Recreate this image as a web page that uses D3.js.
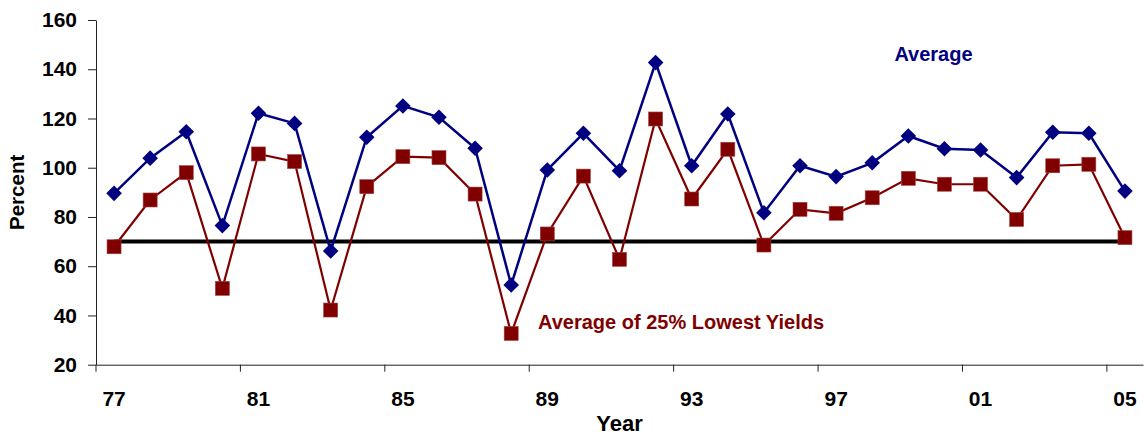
<!DOCTYPE html>
<html>
<head>
<meta charset="utf-8">
<script src="https://cdn.jsdelivr.net/npm/d3@7"></script>
<style>
  html, body { margin: 0; padding: 0; background: #fff; }
  svg { display: block; }
  text { font-family: "Liberation Sans", Arial, sans-serif; font-weight: bold; }
</style>
</head>
<body>
<svg id="chart" width="1144" height="436"></svg>
<script>
// Crop years 1977–2005 (two-digit labels)
const years = ["77","78","79","80","81","82","83","84","85","86","87","88","89","90",
               "91","92","93","94","95","96","97","98","99","00","01","02","03","04","05"];

// Yield as percent of trend: overall average
const averageYield = [89.6, 103.9, 114.6, 76.5, 122.1, 118.0, 66.2, 112.4, 125.1, 120.5,
                      107.9, 52.4, 99.1, 114.0, 98.8, 142.7, 100.8, 121.8, 81.7, 100.8,
                      96.4, 102.0, 112.9, 107.7, 107.2, 96.0, 114.4, 114.0, 90.5];

// Average of the lowest 25% of yields
const lowestQuarterYield = [67.9, 86.9, 98.0, 51.0, 105.6, 102.5, 42.2, 92.3, 104.5, 104.1,
                            89.3, 32.7, 73.1, 96.6, 62.8, 119.8, 87.3, 107.5, 68.6, 83.1,
                            81.5, 87.8, 95.7, 93.3, 93.3, 79.0, 100.8, 101.4, 71.6];

// Reference level drawn across all years
const referenceLevel = years.map(() => 70);

const xLabelYears = ["77","81","85","89","93","97","01","05"];
const yTicks = [20, 40, 60, 80, 100, 120, 140, 160];

const svg = d3.select("#chart");
const plot = { left: 96, right: 1143, top: 20, bottom: 364.7 };

const x = d3.scaleBand().domain(years).range([plot.left, plot.right]).padding(0);
const y = d3.scaleLinear().domain([20, 160]).range([plot.bottom, plot.top]);
const cx = d => x(d) + x.bandwidth() / 2;

// Y axis
const yAxis = svg.append("g")
  .attr("transform", `translate(${plot.left},0)`)
  .call(d3.axisLeft(y).tickValues(yTicks).tickSize(8).tickSizeOuter(0).tickPadding(11));
yAxis.select(".domain").attr("stroke", "#222").attr("stroke-width", 1);
yAxis.selectAll(".tick line").attr("stroke", "#222");
yAxis.selectAll(".tick text").attr("font-size", 21).attr("fill", "#000")
  .attr("font-family", "Liberation Sans, Arial, sans-serif").attr("font-weight", "bold");

// X axis: labels at category centres, tick marks on category boundaries
const xAxis = svg.append("g")
  .attr("transform", `translate(0,${plot.bottom})`)
  .call(d3.axisBottom(x).tickValues(xLabelYears).tickSize(0).tickSizeOuter(0).tickPadding(24));
xAxis.select(".domain").attr("stroke", "#222").attr("stroke-width", 1);
xAxis.selectAll(".tick text").attr("font-size", 21).attr("fill", "#000")
  .attr("font-family", "Liberation Sans, Arial, sans-serif").attr("font-weight", "bold")
  .attr("dy", 0).attr("y", 41.5);

const boundaryYears = years.filter((d, i) => i % 4 === 0);
svg.append("g").selectAll("line").data(boundaryYears).join("line")
  .attr("x1", d => x(d)).attr("x2", d => x(d))
  .attr("y1", plot.bottom).attr("y2", plot.bottom + 7)
  .attr("stroke", "#222").attr("stroke-width", 1);

// Axis titles
svg.append("text")
  .attr("x", (plot.left + plot.right) / 2).attr("y", 431)
  .attr("text-anchor", "middle").attr("font-size", 22).attr("fill", "#000")
  .text("Year");
svg.append("text")
  .attr("transform", `translate(24,${(plot.top + plot.bottom) / 2}) rotate(-90)`)
  .attr("text-anchor", "middle").attr("font-size", 20.5).attr("fill", "#000")
  .text("Percent");

// Lines
const line = d3.line().x((d, i) => cx(years[i])).y(d => y(d));

svg.append("path").datum(referenceLevel)
  .attr("d", line).attr("fill", "none").attr("stroke", "#000").attr("stroke-width", 4);

svg.append("path").datum(averageYield)
  .attr("d", line).attr("fill", "none").attr("stroke", "#000080").attr("stroke-width", 2.5);

svg.append("path").datum(lowestQuarterYield)
  .attr("d", line).attr("fill", "none").attr("stroke", "#800000").attr("stroke-width", 2.2);

// Markers
const dia = 7.8;
svg.append("g").selectAll("path").data(averageYield).join("path")
  .attr("d", (d, i) => {
    const px = cx(years[i]), py = y(d);
    return `M${px},${py - dia}L${px + dia},${py}L${px},${py + dia}L${px - dia},${py}Z`;
  })
  .attr("fill", "#000080");

const sq = 14;
svg.append("g").selectAll("rect").data(lowestQuarterYield).join("rect")
  .attr("x", (d, i) => cx(years[i]) - sq / 2)
  .attr("y", d => y(d) - sq / 2)
  .attr("width", sq).attr("height", sq)
  .attr("fill", "#800000").attr("stroke", "#a04040").attr("stroke-width", 0.6);

// Series labels
svg.append("text")
  .attr("x", 933.5).attr("y", 61)
  .attr("text-anchor", "middle").attr("font-size", 20).attr("fill", "#000080")
  .text("Average");
svg.append("text")
  .attr("x", 538).attr("y", 328.5)
  .attr("font-size", 20).attr("fill", "#800000")
  .text("Average of 25% Lowest Yields");
</script>
</body>
</html>
